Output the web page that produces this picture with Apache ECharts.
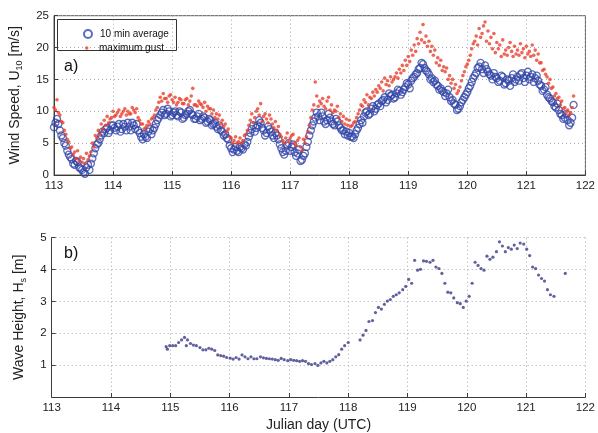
<!DOCTYPE html>
<html>
<head>
<meta charset="utf-8">
<script src="https://cdn.jsdelivr.net/npm/echarts@6/dist/echarts.min.js"></script>
<style>
html,body{margin:0;padding:0;background:#fff;}
#c{width:598px;height:433px;}
</style>
</head>
<body>
<div id="c"></div>
<script>
// ---- sampling of wind records (Julian day) ----
const windStart = 113.0;
const windStep = 0.05;

// 10 min average wind speed [m/s], samples at windStart + i*windStep
const avgA = [
 7.5,8.8,7.0,5.8,4.6,3.2,2.5,1.6,2.0,1.0,0.4,1.2,0.8,2.6,4.2,5.0,6.2,6.6,7.4,7.0,
 7.8,7.0,8.0,7.2,7.6,8.2,7.0,7.8,8.0,6.6,5.6,6.0,6.8,6.4,7.4,8.6,9.4,10.2,9.6,10.0,
 9.4,10.0,9.2,9.8,9.0,9.6,10.2,9.4,8.8,9.6,8.8,9.0,8.4,8.6,8.0,7.6,7.8,6.8,6.4,5.6,
 4.2,4.0,3.8,4.4,4.0,4.6,6.0,7.2,6.8,7.8,8.2,7.0,6.6,7.2,6.2,6.6,5.6,4.2,3.2,4.6,
 3.8,4.8,3.0,4.0,2.4,3.4,5.2,7.0,8.4,9.8,8.6,9.2,8.0,9.6,8.4,7.8,8.4,7.4,7.0,6.8,
 6.6,6.0,6.4,7.4,8.6,9.2,10.0,9.6,10.8,10.4,11.2,11.6,12.2,11.8,12.4,12.0,12.8,13.2,13.0,13.8,
 14.2,14.8,15.4,16.0,16.8,17.4,16.4,15.8,15.2,14.8,14.0,13.6,13.0,12.8,12.2,11.8,11.0,10.4,11.4,12.2,
 13.0,14.0,15.2,16.0,17.0,16.6,17.2,16.2,15.6,16.0,15.2,14.8,15.4,14.4,14.8,15.2,14.6,15.4,15.8,15.2,
 15.6,15.0,15.8,15.2,14.8,14.0,13.4,12.6,12.0,11.4,10.6,10.2,9.4,9.0,8.6,8.2,11.0
];
// 10 min average, interleaved samples at windStart + windStep/2 + i*windStep
const avgB = [
 8.2,8.0,6.2,5.0,3.8,2.8,1.8,2.2,1.2,0.8,0.2,1.6,1.8,3.4,4.8,5.6,6.8,7.2,6.6,7.8,
 7.4,7.6,6.8,8.0,7.0,7.6,8.2,7.2,7.0,6.0,6.4,5.8,7.2,7.0,8.0,9.0,9.8,9.4,10.4,9.2,
 9.8,9.4,10.0,8.8,9.4,10.0,9.6,8.8,9.2,8.6,9.2,8.2,8.8,7.8,8.2,7.2,7.0,6.2,5.8,4.6,
 3.6,4.4,3.6,4.2,4.8,5.2,6.6,7.8,7.4,8.6,7.4,6.2,7.6,6.8,5.8,6.2,4.8,3.6,3.8,5.0,
 4.4,3.6,3.4,2.2,3.0,4.4,6.2,7.8,9.0,9.2,9.8,8.4,8.6,9.0,8.0,8.8,7.8,7.0,6.4,6.2,
 6.0,5.8,7.0,8.0,8.2,9.8,9.4,10.4,10.0,11.0,10.8,11.8,11.4,12.8,12.6,12.2,13.4,12.6,13.4,14.4,
 13.6,15.2,15.8,16.6,17.6,16.8,16.2,15.0,14.6,14.2,13.4,13.2,12.4,13.4,11.6,11.2,10.2,10.8,11.8,12.6,
 13.6,14.6,15.6,16.8,17.6,16.0,16.6,15.8,15.0,15.4,14.6,15.6,14.2,15.0,14.0,15.8,15.0,14.8,16.0,14.6,
 16.2,15.4,14.6,15.6,14.2,13.2,13.8,12.2,11.6,10.8,11.2,9.6,8.8,9.6,7.8,9.0
];
// maximum gust [m/s], samples at windStart + i*windStep
const gustA = [
 10.6,11.8,9.4,8.2,6.4,5.2,4.4,3.6,3.8,2.8,2.6,3.4,3.0,5.0,6.2,7.0,8.0,8.6,9.2,8.8,
 10.0,9.4,10.2,9.6,10.4,10.0,9.6,10.2,10.4,8.6,8.0,7.4,8.4,8.8,9.4,10.6,12.2,12.8,12.0,12.4,
 11.8,12.2,11.4,11.8,11.2,12.0,11.6,13.6,11.0,11.6,11.0,11.4,10.8,10.4,10.2,9.6,9.4,8.6,8.0,7.2,
 5.8,5.4,5.0,5.8,5.4,6.4,7.8,9.6,9.0,10.4,11.2,9.2,8.8,9.4,8.0,8.4,7.6,6.0,5.0,6.6,
 5.8,6.4,4.6,5.8,3.8,5.0,6.8,9.0,11.0,12.4,11.6,12.0,10.4,12.2,11.0,10.2,10.8,9.6,9.2,8.8,
 8.6,7.8,8.4,9.6,11.0,11.8,12.6,12.2,13.0,13.4,14.0,14.6,15.2,14.8,15.4,15.0,16.0,16.6,17.2,18.0,
 18.6,19.6,20.4,21.4,22.4,23.6,21.8,21.0,20.2,19.6,18.4,18.0,17.0,16.8,15.6,15.0,14.2,13.2,14.8,16.2,
 17.4,18.8,20.6,21.8,23.0,22.2,24.0,22.6,21.6,22.2,20.8,20.4,21.2,19.6,20.0,19.4,20.2,19.6,20.6,19.8,
 20.2,19.4,20.4,19.6,19.0,17.6,16.6,15.4,15.0,13.8,12.8,12.2,11.6,10.6,10.2,9.8,12.4
];
// maximum gust, interleaved samples at windStart + windStep/2 + i*windStep
const gustB = [
 10.2,9.8,8.4,7.0,5.6,4.2,3.2,2.6,2.2,2.0,1.8,2.4,3.6,4.4,5.8,6.4,7.2,7.8,8.2,9.0,
 9.2,9.8,9.2,10.0,9.4,9.6,10.6,9.8,9.0,8.0,7.2,7.8,8.0,9.0,10.2,11.4,11.6,12.0,11.4,12.6,
 11.4,11.0,12.0,11.2,11.8,11.0,12.4,11.0,10.8,11.2,10.6,10.0,10.4,9.6,9.0,8.8,8.0,7.6,6.8,6.0,
 5.0,6.0,5.2,5.0,6.2,7.0,8.6,8.2,10.0,9.4,8.4,9.6,8.2,8.8,7.4,7.0,6.4,5.4,5.8,5.2,
 6.2,5.0,5.4,4.4,5.6,6.0,7.8,10.2,14.6,10.8,11.2,10.8,11.6,10.2,9.8,10.0,9.0,8.4,8.0,7.8,
 7.6,8.2,9.0,10.2,10.8,11.4,11.0,12.0,12.4,13.0,13.6,13.2,14.2,14.0,14.6,15.4,15.2,16.0,16.4,17.2,
 17.8,18.8,19.4,20.6,21.2,20.8,20.2,19.4,18.8,17.6,17.2,16.4,16.2,15.0,14.4,13.6,12.8,13.8,15.6,17.0,
 18.0,19.8,21.0,20.4,21.6,23.4,21.0,20.6,19.8,19.2,19.8,18.6,19.0,18.8,20.8,18.6,19.0,18.8,19.2,18.4,
 19.0,18.6,18.8,18.0,17.6,16.4,15.8,14.4,13.6,12.4,12.0,11.0,10.4,9.8,9.4,10.6
];

// significant wave height: Julian day and Hs [m]
const waveDay = [
 114.93,114.95,114.99,115.04,115.09,115.14,115.19,115.24,115.27,115.29,115.34,115.39,115.44,115.50,115.55,115.60,115.65,115.70,115.75,115.80,
 115.85,115.90,115.95,116.01,116.06,116.11,116.16,116.21,116.26,116.31,116.36,116.41,116.46,116.52,116.57,116.62,116.67,116.72,116.77,116.82,
 116.87,116.92,116.98,117.03,117.08,117.13,117.18,117.23,117.28,117.33,117.38,117.44,117.49,117.54,117.59,117.64,117.69,117.74,117.79,117.84,
 117.89,117.94,118.00,118.20,118.25,118.30,118.35,118.41,118.46,118.51,118.56,118.61,118.66,118.71,118.76,118.81,118.86,118.92,118.97,119.02,
 119.07,119.12,119.17,119.22,119.27,119.32,119.38,119.43,119.48,119.53,119.58,119.63,119.68,119.73,119.78,119.84,119.89,119.94,119.99,120.04,
 120.09,120.14,120.19,120.24,120.29,120.34,120.39,120.44,120.50,120.55,120.60,120.65,120.70,120.75,120.80,120.85,120.90,120.96,121.01,121.06,
 121.11,121.16,121.21,121.26,121.31,121.36,121.41,121.47,121.66
];
const waveHs = [
 1.58,1.50,1.61,1.61,1.61,1.71,1.79,1.87,1.61,1.79,1.68,1.63,1.61,1.55,1.48,1.48,1.53,1.50,1.46,1.32,
 1.30,1.28,1.24,1.22,1.19,1.24,1.19,1.32,1.26,1.20,1.26,1.20,1.20,1.26,1.23,1.21,1.20,1.19,1.17,1.15,
 1.21,1.17,1.14,1.17,1.15,1.14,1.12,1.14,1.12,1.05,1.02,1.05,0.99,1.07,1.12,1.07,1.12,1.17,1.26,1.33,
 1.50,1.61,1.71,1.79,1.94,2.09,2.37,2.40,2.65,2.81,2.76,2.91,3.01,3.06,3.16,3.21,3.27,3.37,3.47,3.69,
 3.57,4.29,3.98,4.01,4.27,4.26,4.23,4.29,4.08,4.03,3.88,3.57,3.29,3.27,3.11,2.96,2.93,2.81,3.01,3.16,
 3.57,4.23,4.13,4.03,3.98,4.42,4.32,4.39,4.56,4.87,4.74,4.56,4.69,4.64,4.77,4.66,4.83,4.80,4.64,4.44,
 4.08,4.03,3.83,3.72,3.64,3.37,3.21,3.16,3.88
];

const xTicks = [113,122,1];
const windTicks = [0,25,5];
const waveTicks = [0,5,1];

function pairs(vals, offset){ return vals.map((v,i)=>[+(windStart+offset+i*windStep).toFixed(4), v]); }

const FONT = '"Liberation Sans", Arial, Helvetica, sans-serif';
const AX = '#3c3c3c';
const GRIDC = '#a8a8a8';
const BLUE = '#3346a8';
const RED = '#e8402e';

const chart = echarts.init(document.getElementById('c'), null, {renderer:'canvas'});

function xAxisCfg(gi, withName){
  return {
    type:'value', gridIndex:gi, min:xTicks[0], max:xTicks[1], interval:xTicks[2],
    axisLine:{show:true, onZero:false, lineStyle:{color:AX, width:1}},
    axisTick:{show:true, inside:true, length:4, lineStyle:{color:AX}},
    axisLabel:{color:'#222', fontFamily:FONT, fontSize:11.5, margin:5},
    splitLine:{show:true, lineStyle:{color:GRIDC, type:[1,3], width:1}},
    name: withName ? 'Julian day (UTC)' : '',
    nameLocation:'middle', nameGap:21,
    nameTextStyle:{color:'#222', fontFamily:FONT, fontSize:14}
  };
}

const option = {
  animation:false,
  backgroundColor:'#fff',
  grid:[
    {left:51.7, right:9, top:15.7, height:159.3, show:true, borderColor:'#5a5a5a', borderWidth:1, backgroundColor:'transparent'},
    {left:51.7, right:9, top:237.7, height:164.1}
  ],
  xAxis:[ xAxisCfg(0,false), xAxisCfg(1,true) ],
  yAxis:[
    {type:'value', gridIndex:0, min:windTicks[0], max:windTicks[1], interval:windTicks[2],
     axisLine:{show:true, lineStyle:{color:AX}},
     axisTick:{show:true, inside:true, length:4, lineStyle:{color:AX}},
     axisLabel:{color:'#222', fontFamily:FONT, fontSize:11.5, margin:5},
     splitLine:{show:true, lineStyle:{color:GRIDC, type:[1,3], width:1}},
     name:'Wind Speed, U{s|10} [m/s]', nameLocation:'middle', nameGap:30,
     nameTextStyle:{color:'#222', fontFamily:FONT, fontSize:14,
       rich:{s:{fontSize:9, fontFamily:FONT, color:'#222', padding:[9,0,0,0]}}}
    },
    {type:'value', gridIndex:1, min:waveTicks[0], max:waveTicks[1], interval:waveTicks[2],
     axisLine:{show:true, lineStyle:{color:AX}},
     axisTick:{show:true, inside:true, length:4, lineStyle:{color:AX}},
     axisLabel:{color:'#222', fontFamily:FONT, fontSize:11.5, margin:5, showMinLabel:false},
     splitLine:{show:true, lineStyle:{color:GRIDC, type:[1,3], width:1}},
     name:'Wave Height, H{s|s} [m]', nameLocation:'middle', nameGap:24,
     nameTextStyle:{color:'#222', fontFamily:FONT, fontSize:14,
       rich:{s:{fontSize:9, fontFamily:FONT, color:'#222', padding:[9,0,0,0]}}}
    }
  ],
  legend:[
    {data:['10 min average'], left:78, top:24, itemWidth:8, itemHeight:8, itemGap:0,
     textStyle:{fontFamily:FONT, fontSize:10, color:'#111', padding:[0,0,0,3]}},
    {data:['maximum gust'], left:80, top:38, itemWidth:3.5, itemHeight:3.5, itemGap:0,
     textStyle:{fontFamily:FONT, fontSize:10, color:'#111', padding:[0,0,0,5.5]}}
  ],
  graphic:[
    {type:'rect', left:57, top:19, z:-1, silent:true,
     shape:{width:119, height:31}, style:{fill:'#fff', stroke:'#333', lineWidth:1}},
    {type:'text', left:64, top:59, style:{text:'a)', font:'16px '+FONT, fill:'#111'}},
    {type:'text', left:64, top:246, style:{text:'b)', font:'16px '+FONT, fill:'#111'}}
  ],
  series:[
    {name:'10 min average', type:'scatter', xAxisIndex:0, yAxisIndex:0,
     data: pairs(avgA,0).concat(pairs(avgB, windStep/2)),
     symbol:'circle', symbolSize:7,
     itemStyle:{color:'rgba(0,0,0,0)', borderColor:BLUE, borderWidth:1.3}, z:2},
    {name:'maximum gust', type:'scatter', xAxisIndex:0, yAxisIndex:0,
     data: pairs(gustA,0).concat(pairs(gustB, windStep/2)),
     symbol:'circle', symbolSize:3.6,
     itemStyle:{color:RED}, z:3},
    {name:'Hs', type:'scatter', xAxisIndex:1, yAxisIndex:1,
     data: waveDay.map((d,i)=>[d, waveHs[i]]),
     symbol:'circle', symbolSize:3.2,
     itemStyle:{color:'#3a3a88'}}
  ]
};
chart.setOption(option);
</script>
</body>
</html>
